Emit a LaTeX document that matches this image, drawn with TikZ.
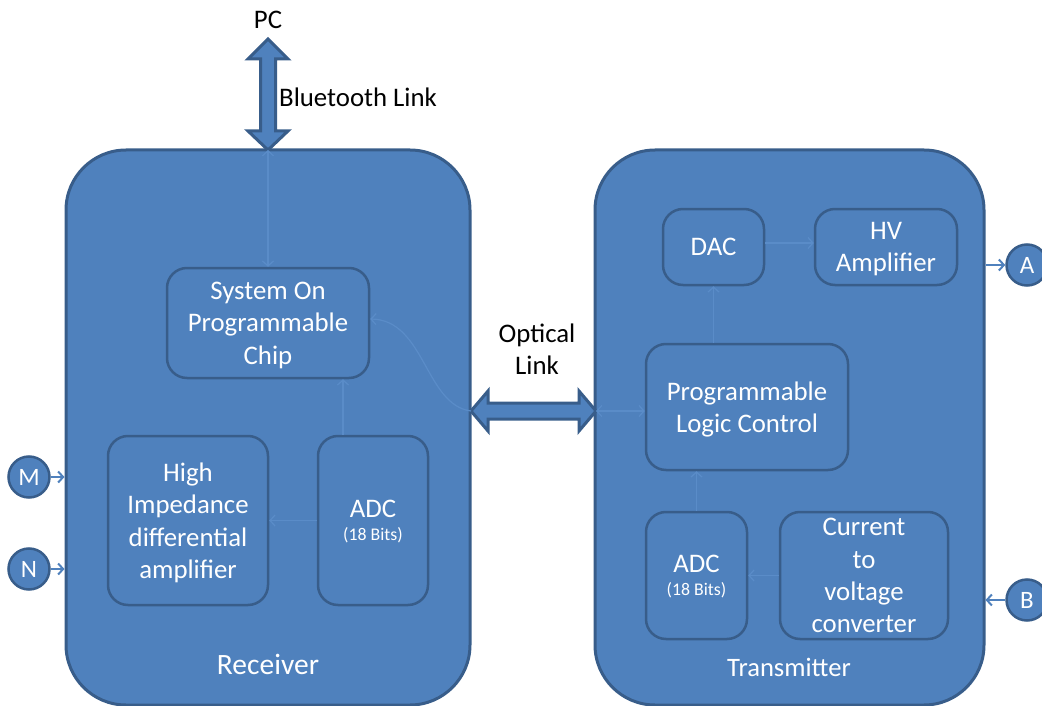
\documentclass[tikz,border=0pt]{standalone}
\usepackage{fontspec}
\setmainfont{Carlito}
\usetikzlibrary{arrows.meta}

\definecolor{boxfill}{RGB}{79,129,189}
\definecolor{boxline}{RGB}{56,93,138}
\definecolor{wirecol}{RGB}{90,140,200}

\newcommand{\bitsfont}{\fontsize{17.8}{20}\selectfont}

\tikzset{
  unit/.style={draw=boxline, fill=boxfill, line width=3pt, rounded corners=60pt, inner sep=0pt},
  block/.style={draw=boxline, fill=boxfill, line width=2.5pt, rounded corners=20pt,
    inner sep=0pt, text depth=-7pt, align=center, text=white,
    font=\fontsize{26.8}{32.4}\selectfont},
  port/.style={circle, draw=boxline, fill=boxfill, line width=2.5pt, minimum size=41pt,
    inner sep=0pt, text=white, font=\fontsize{25}{28}\selectfont},
  bigarrow/.style={draw=boxline, fill=boxfill, line width=3pt},
  wire/.style={draw=wirecol, line width=1.2pt},
  extwire/.style={draw=boxfill, line width=2pt},
  tipend/.style={-{Straight Barb[length=5pt,width=11pt]}},
  tipboth/.style={{Straight Barb[length=5pt,width=11pt]}-{Straight Barb[length=5pt,width=11pt]}},
  caption/.style={text=black, font=\fontsize{26.8}{32.4}\selectfont, align=center, inner sep=0pt}
}

\begin{document}
\begin{tikzpicture}[x=1pt, y=-1pt]
  \useasboundingbox (0,0) rectangle (1042,706);

  % receiver and transmitter units
  \node[unit, minimum width=404pt, minimum height=555pt] (rx) at (268,427.5) {};
  \node[unit, minimum width=389pt, minimum height=555pt] (tx) at (789.5,427.5) {};

  % receiver blocks
  \node[block, minimum width=202pt, minimum height=110pt] (sopc) at (268,323)
    {System On\\Programmable\\Chip};
  \node[block, minimum width=160pt, minimum height=169pt] (hiz) at (188,520.5)
    {High\\Impedance\\differential\\amplifier};
  \node[block, minimum width=110pt, minimum height=169pt] (adcL) at (373,520.5)
    {ADC\\[-9pt]{\bitsfont (18 Bits)}};

  % transmitter blocks
  \node[block, minimum width=101pt, minimum height=76pt] (dac) at (713.5,247) {DAC};
  \node[block, minimum width=142pt, minimum height=76pt] (hv) at (886,247) {HV\\Amplifier};
  \node[block, minimum width=202pt, minimum height=126pt] (plc) at (747,407)
    {Programmable\\Logic Control};
  \node[block, minimum width=101pt, minimum height=127pt] (adcR) at (696.5,575.5)
    {ADC\\[-9pt]{\bitsfont (18 Bits)}};
  \node[block, minimum width=168pt, minimum height=127pt] (conv) at (864,575.5)
    {Current\\to\\voltage\\converter};

  % unit labels
  \node[text=white, font=\fontsize{29.5}{32}\selectfont] (rxlabel) at (268,664) {Receiver};
  \node[text=white, font=\fontsize{26.6}{30}\selectfont] (txlabel) at (789,667) {Transmitter};

  % ports
  \node[port] (M) at (29,477) {M};
  \node[port] (N) at (29,569) {N};
  \node[port] (A) at (1027,265) {A};
  \node[port] (B) at (1027,600) {B};

  % Bluetooth link
  \coordinate (btTop) at (268,39);
  \coordinate (btFoot) at (268,150);
  \draw[bigarrow] (btTop) -- (288,59) -- (275.5,59) -- (275.5,131) -- (288,131)
    -- (btFoot) -- (248,131) -- (260.5,131) -- (260.5,59) -- (248,59) -- cycle;
  \node[caption] (pc) at (268,20) {PC};
  \node[caption, anchor=west] (btlabel) at (279,97) {Bluetooth Link};

  % optical link
  \coordinate (optL) at (471,411);
  \coordinate (optR) at (596,411);
  \draw[bigarrow] (optL) -- (488,391) -- (488,403) -- (579,403) -- (579,391) -- (optR)
    -- (579,431) -- (579,419) -- (488,419) -- (488,431) -- cycle;
  \node[caption] (optlabel) at (537,349) {Optical\\Link};

  % internal signal paths
  \draw[wire, tipboth] (btFoot) -- (sopc.north);
  \draw[wire, tipend] (optL) .. controls (425,405) and (425,320) .. ([yshift=4pt]sopc.east);
  \draw[wire, tipend] ([xshift=-30pt]adcL.north) -- ([xshift=-30pt]adcL.north |- sopc.south);
  \draw[wire, tipend] (adcL.west) -- (hiz.east);
  \draw[wire, tipboth] (optR) -- (optR -| plc.west);
  \draw[wire, tipend] (dac.south |- plc.north) -- (dac.south);
  \draw[wire, tipend] ([yshift=4pt]dac.east) -- ([yshift=4pt]dac.east -| hv.west);
  \draw[wire, tipend] (adcR.north) -- (adcR.north |- plc.south);
  \draw[wire, tipend] (conv.west) -- (adcR.east);

  % external connections
  \draw[extwire, tipend] (M.east) -- (M -| rx.west);
  \draw[extwire, tipend] (N.east) -- (N -| rx.west);
  \draw[extwire, tipend] (tx.east |- A) -- (A.west);
  \draw[extwire, tipend] (B.west) -- (B -| tx.east);
\end{tikzpicture}
\end{document}
